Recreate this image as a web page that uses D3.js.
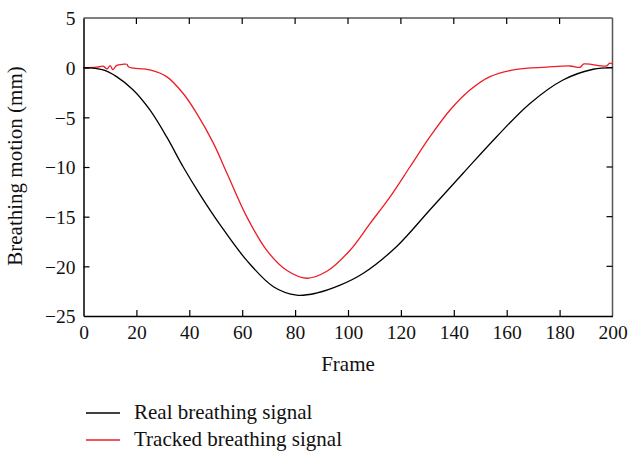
<!DOCTYPE html>
<html>
<head>
<meta charset="utf-8">
<script src="https://cdn.jsdelivr.net/npm/d3@7"></script>
<style>
  body { margin: 0; background: #fff; }
  text { font-family: "Liberation Serif", "Times New Roman", serif; }
</style>
</head>
<body>
<script>
// real signal
var realFrames = [0, 7.4, 12.5, 18.8, 25.1, 31.4, 37.7, 44.1, 51.6, 61.7, 71.8, 80.6, 88, 97, 105.8, 118.4, 131, 143.6, 156.2, 168.8, 181.3, 192.7, 200];
var realValues = [0, -0.23, -0.9, -2.25, -4.26, -6.95, -10.0, -12.8, -15.8, -19.4, -22.05, -22.9, -22.7, -21.9, -20.7, -18, -14.3, -10.6, -6.95, -3.6, -1.24, -0.16, 0];

// tracked signal
var trackFrames = [0, 5, 7.6, 8.8, 10.1, 11.1, 12.4, 14.9, 16.4, 17.1, 25.1, 31.4, 37.7, 42.8, 49.1, 54.2, 61.7, 69.3, 76.8, 84.4, 92, 100.7, 108.3, 115.9, 123.4, 131, 138.6, 146.1, 153.7, 163.7, 175, 183.9, 187.7, 189.2, 197.8, 198.8, 200];
var trackValues = [0, 0.05, 0.14, -0.13, 0.2, -0.2, 0.2, 0.34, 0.34, 0.07, -0.23, -0.9, -2.6, -4.6, -7.6, -10.6, -15, -18.4, -20.4, -21.2, -20.5, -18.4, -15.7, -13, -10, -6.95, -4.26, -2.25, -0.9, -0.17, 0.05, 0.17, 0.04, 0.37, 0.17, 0.44, 0.4];

var xTicks = [0, 20, 40, 60, 80, 100, 120, 140, 160, 180, 200];
var yTicks = [5, 0, -5, -10, -15, -20, -25];
var seriesNames = ["Real breathing signal", "Tracked breathing signal"];
var seriesColors = ["#000000", "#ee1c25"];

var w = 628, h = 454;
var mLeft = 83.5, mRight = 612.5, mTop = 18, mBottom = 316;
var fs = "19.5px", fsTitle = "21px";

var svg = d3.select("body").append("svg")
    .attr("width", w)
    .attr("height", h);

var x = d3.scaleLinear().domain([0, 200]).range([mLeft, mRight]);
var y = d3.scaleLinear().domain([-25, 5]).range([mBottom, mTop]);

// frame: top and right in grey
svg.append("line").attr("x1", mLeft).attr("x2", mRight).attr("y1", mTop).attr("y2", mTop)
    .attr("stroke", "#555").attr("stroke-width", 1.5);
svg.append("line").attr("x1", mRight).attr("x2", mRight).attr("y1", mTop).attr("y2", mBottom)
    .attr("stroke", "#555").attr("stroke-width", 1.5);

// inward ticks on top and right
svg.selectAll(".ttick").data(xTicks.slice(1, -1)).enter().append("line")
    .attr("x1", function (d) { return x(d); })
    .attr("x2", function (d) { return x(d); })
    .attr("y1", mTop).attr("y2", mTop + 6)
    .attr("stroke", "#000").attr("stroke-width", 1.2);
svg.selectAll(".rtick").data(yTicks.slice(1, -1)).enter().append("line")
    .attr("x1", mRight - 6).attr("x2", mRight)
    .attr("y1", function (d) { return y(d); })
    .attr("y2", function (d) { return y(d); })
    .attr("stroke", "#000").attr("stroke-width", 1.2);

var xAxis = d3.axisBottom(x).tickValues(xTicks).tickSizeInner(-6).tickSizeOuter(0);
var yAxis = d3.axisLeft(y).tickValues(yTicks).tickSizeInner(-6).tickSizeOuter(0)
    .tickFormat(function (d) { return d < 0 ? "\u2212" + Math.abs(d) : d; });

var gx = svg.append("g").attr("transform", "translate(0," + mBottom + ")").call(xAxis);
var gy = svg.append("g").attr("transform", "translate(" + mLeft + ",0)").call(yAxis);

[gx, gy].forEach(function (g) {
    g.select(".domain").attr("stroke", "#000").attr("stroke-width", 1.5);
    g.selectAll(".tick line").attr("stroke", "#000").attr("stroke-width", 1.2);
    g.selectAll(".tick text")
        .attr("fill", "#111")
        .style("font-family", "Liberation Serif")
        .style("font-size", fs);
});
gy.selectAll(".tick line").filter(function (d) { return d === 5 || d === -25; }).remove();
gx.selectAll(".tick line").filter(function (d) { return d === 0 || d === 200; }).remove();
gy.selectAll(".tick text").attr("x", -8).attr("dy", "0.35em");
gx.selectAll(".tick text").attr("y", 9);

var line = d3.line().curve(d3.curveCatmullRom.alpha(0.5))
    .x(function (d) { return x(d[0]); })
    .y(function (d) { return y(d[1]); });

svg.append("path")
    .attr("d", line(d3.zip(trackFrames, trackValues)))
    .attr("fill", "none").attr("stroke", seriesColors[1]).attr("stroke-width", 1.3);
svg.append("path")
    .attr("d", line(d3.zip(realFrames, realValues)))
    .attr("fill", "none").attr("stroke", seriesColors[0]).attr("stroke-width", 1.3);

// axis titles
svg.append("text")
    .attr("x", (mLeft + mRight) / 2).attr("y", 371)
    .attr("text-anchor", "middle")
    .style("font-size", fsTitle).attr("fill", "#111")
    .text("Frame");
svg.append("text")
    .attr("transform", "translate(22," + ((mTop + mBottom) / 2 - 1) + ") rotate(-90)")
    .attr("text-anchor", "middle")
    .style("font-size", fsTitle).attr("fill", "#111")
    .text("Breathing motion (mm)");

// legend
var legend = svg.selectAll(".leg").data(seriesNames).enter().append("g")
    .attr("transform", function (d, i) { return "translate(86," + (413 + i * 27) + ")"; });
legend.append("line")
    .attr("x1", 0).attr("x2", 34).attr("y1", 0).attr("y2", 0)
    .attr("stroke", function (d, i) { return seriesColors[i]; })
    .attr("stroke-width", 1.3);
legend.append("text")
    .attr("x", 48).attr("y", 6)
    .style("font-size", fsTitle).attr("fill", "#111")
    .text(function (d) { return d; });
</script>
</body>
</html>
